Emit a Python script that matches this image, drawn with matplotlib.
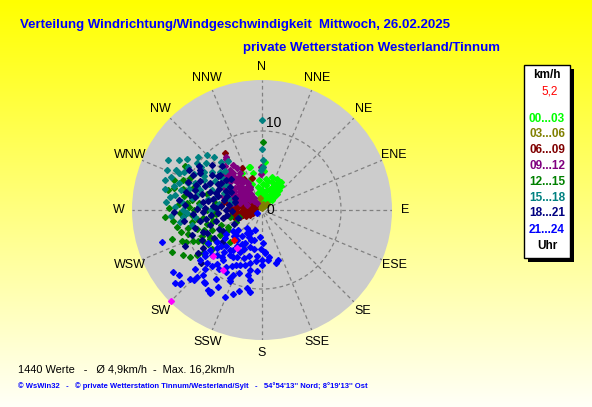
import numpy as np
import matplotlib.pyplot as plt
from matplotlib.patches import Rectangle

plt.rcParams['font.family'] = ['Liberation Sans', 'DejaVu Sans']

# wind direction (deg) / speed (km/h) per 3-hour block
lime = [(332,5.3),(343,5.7),(346,4.8),(344,5.6),(4,6.1),(3,5.0),(7,4.0),(29,3.9),(33,3.0),(25,3.5),
        (30,2.5),(35,2.0),(20,2.8),(15,2.0),(10,3.2),(355,3.8),(350,3.0),(0,2.5),(40,3.3),(38,2.6),
        (42,2.2),(28,1.5),(22,1.2),(18,1.8),(12,1.0),(5,1.5),(45,1.8),(36,3.6),(32,4.1),(26,4.4),
        (340,4.2),(338,3.5),(348,2.2),(24,3.0),(31,3.4),(27,2.0),(14,2.6),(8,2.2),(33,1.2),(40,1.0),
        (35,4.3),(38,3.9),(44,2.8),(20,3.8),(16,4.4),(12,3.8),(2,3.3),(358,1.8),(352,1.0),(30,0.6)]
olive = [(330,0.5),(340,1.0),(10,0.8),(350,1.5),(20,0.6),(300,0.8),(0,0.3),(35,1.0),(345,0.7),(322,0.8)]
darkred = [(327,8.6),(325,7.8),(334,5.9),(342,4.2),(306,6.1),(300,2.0),(305,1.2),(295,1.5),(259,3.5),
           (258,2.0),(280,5.0),(276,4.1),(266,3.2),(255,2.5),(257,3.7),(270,1.7),(279,2.6),(286,3.8),
           (270,2.4),(253,2.9),(247,1.6),(283,4.5),(288,3.0),(274,3.2),(262,2.8),(250,2.2),(264,1.5),
           (290,2.2),(298,1.0),(310,1.5),(320,4.8),(330,4.5),(272,4.0),(268,2.0),(277,3.4),(282,2.0),
           (260,2.3),(262,3.8),(285,1.3),(254,1.2),(275,0.9),(292,3.4)]
purple = [(326,8.1),(325,7.9),(321,6.5),(322,6.0),(325,4.9),(333,3.8),(333,3.3),(318,4.8),(318,5.1),
          (306,5.0),(317,3.5),(310,2.0),(295,4.9),(295,4.0),(312,6.6),(308,5.4),(322,1.1),(359,5.5),
          (358,4.6),(287,4.2),(287,2.9),(288,2.0),(315,6.0),(320,5.5),(323,4.2),(328,4.5),(330,3.0),
          (326,2.5),(320,3.0),(314,4.2),(312,3.0),(318,2.2),(324,1.8),(316,1.5),(310,5.8),(305,6.2),
          (300,5.5),(302,4.2),(306,3.5),(300,3.0),(292,3.5),(296,2.5),(284,3.8),(290,5.2),(329,5.5),
          (327,6.8),(320,7.2),(317,6.2),(319,4.0),(313,5.3),(309,4.4),(304,5.0),(298,4.0),(321,2.3),
          (326,3.5),(331,4.0),(315,2.8),(308,2.6),(303,3.4),(311,3.7),(323,5.1),(329,6.2)]
green = [(291,10.7),(268,10.4),(266,8.9),(266,12.3),(272,9.3),(247,8.3),(241,7.5),(257,6.3),(244,4.8),
         (237,10.9),(245,12.5),(255,10.6),(246,9.5),(234,9.2),(243,7.4),(239,6.2),(225,5.7),(1,8.6),
         (263,11.3),(249,10.9),(251,7.7),(242,8.4),(260,9.0),(262,7.5),(254,8.5),(250,5.5),(258,4.2),
         (265,5.8),(270,7.0),(276,8.0),(280,10.0),(284,11.5),(288,9.2),(294,10.0),(286,7.2),(278,6.0),
         (271,11.8),(259,11.0),(252,12.0),(248,6.8),(236,7.0),(232,8.0),(246,3.6),(253,3.0),(240,5.0),
         (230,6.5),(300,11.2),(282,12.2),(275,9.5),(268,6.2),(262,8.3),(256,9.6),(270,8.6),(278,9.0),
         (285,10.4),(252,9.8),(247,10.5),(244,9.0),(238,8.0),(256,7.2),(263,6.5),(274,10.5),(289,11.8),
         (266,10.0),(235,10.0),(240,11.5)]
teal = [(298,13.5),(315,9.9),(287,12.8),(290,12.2),(296,11.0),(0,11.4),(0,7.7),(1,6.3),(1,5.5),(359,5.0),
        (310,10.5),(318,9.0),(305,9.5),(300,10.8),(293,13.0),(282,12.5),(278,11.8),(284,10.5),(292,9.2),
        (300,8.5),(307,8.0),(312,7.2),(302,7.0),(296,7.5),(288,8.2),(280,9.0),(276,10.2),(272,11.0),
        (268,9.5),(286,6.0),(294,5.2),(300,6.2),(308,6.5),(290,10.0),(298,9.8),(304,11.5),(285,11.5),
        (274,8.0),(266,11.5),(262,10.5),(281,7.0),(292,6.8),(278,5.5),(270,6.5),(264,8.5),(258,9.0),
        (295,12.0),(320,8.0),(325,7.5),(316,6.8),(289,4.5),(283,4.0),(305,5.5),(283,8.5),(290,8.8),
        (297,8.3),(303,8.8),(310,9.2),(288,11.0),(280,11.2),(275,12.2),(294,11.5),(301,12.3),(306,10.2),
        (270,10.0),(265,10.0),(286,9.6)]
navy = [(301,9.2),(291,10.0),(297,7.4),(281,8.6),(280,6.9),(267,8.7),(269,11.2),(310,6.9),(310,5.9),
        (303,9.3),(297,9.8),(250,9.4),(237,8.9),(241,5.6),(229,10.3),(285,7.8),(288,5.8),(292,4.8),
        (276,5.2),(272,7.2),(264,6.5),(260,8.0),(258,5.0),(274,9.8),(283,9.9),(295,8.6),(305,7.8),
        (300,6.5),(289,7.0),(279,4.2),(268,3.8),(262,4.5),(254,6.8),(247,7.5),(244,4.0),(252,3.2),
        (286,3.5),(294,3.8),(300,4.6),(306,5.0),(315,5.5),(277,10.6),(262,10.0),(255,8.8),(266,5.6),
        (270,4.5),(296,6.0),(283,6.3),(275,6.2),(291,9.0),(318,7.5),(312,8.5),(245,10.8),(240,7.0),
        (232,6.5),(284,5.0),(290,6.2),(278,7.5),(271,8.2),(287,8.8),(293,7.8),(298,5.2),(303,6.2),
        (282,9.3),(268,7.5),(273,5.8),(261,7.2),(256,6.0),(250,8.0),(246,6.0),(243,8.5),(236,9.8),
        (305,9.8),(308,7.0),(299,10.5)]
blue = [(252,13.3),(235,13.7),(232,13.4),(230,14.3),(228,13.8),(226,12.6),(224,12.3),(219,11.7),(214,12.2),
        (212,12.2),(204,9.9),(204,9.0),(196,10.6),(191,10.1),(191,7.7),(192,8.4),(165,7.0),(178,4.2),
        (176,5.5),(186,5.9),(213,3.5),(212,3.2),(207,4.7),(208,6.0),(219,6.5),(228,6.9),(221,7.8),
        (220,8.9),(226,9.7),(231,9.3),(231,10.1),(229,11.3),(185,7.8),(180,7.0),(173,6.4),(162,6.6),
        (230,3.9),(227,4.9),(233,5.9),(198,4.9),(196,3.9),(205,7.7),(197,7.3),(212,8.5),(232,8.3),
        (222,11.1),(224,11.8),(193,6.9),(184,3.4),(199,2.7),(235,0.7),(219,3.0),(207,3.3),(180,6.3),
        (176,5.3),(212,12.4),(218,11.8),(228,13.9),(215,7.0),(210,5.0),(205,5.5),(215,5.5),(220,5.0),
        (225,6.5),(230,7.5),(235,7.0),(212,7.0),(218,8.0),(208,8.0),(200,6.5),(196,6.0),(222,9.5),
        (228,8.5),(233,9.0),(205,9.5),(214,10.5),(200,8.5),(192,5.0),(226,4.5),(236,5.5),(239,8.0),
        (210,9.0),(216,9.2),(224,10.4),(202,7.5),(208,6.8),(216,6.2),(222,7.2),(190,9.0),(187,6.5),
        (200,4.0),(206,3.8),(218,4.2),(234,4.5),(225,8.0),(210,11.2),(199,11.2),(188,10.5),(171,6.0),
        (182,5.0),(203,12.0)]
magenta = [(225,16.2),(213,5.8),(213,9.0),(227,8.5)]
current = [(223,5.2)]

hours = ["00...03", "03...06", "06...09", "09...12", "12...15", "15...18", "18...21", "21...24"]
colors = ['#00ff00', '#808000', '#800000', '#800080', '#008000', '#008080', '#000080', '#0000ff']
groups = [lime, olive, darkred, purple, green, teal, navy, blue]
dirs16 = ['N', 'NNE', 'NE', 'ENE', 'E', 'ESE', 'SE', 'SSE',
          'S', 'SSW', 'SW', 'WSW', 'W', 'WNW', 'NW', 'NNW']
rmax = 16.45

W, H = 592, 407
fig = plt.figure(figsize=(W/100, H/100), dpi=100)

# yellow gradient background
bg = fig.add_axes([0, 0, 1, 1])
t = np.linspace(0, 1, 256)
img = np.ones((256, 1, 3))
img[:, 0, 2] = 0.97*t
bg.imshow(img, aspect='auto', extent=[0, 1, 0, 1])
bg.set_xlim(0, 1); bg.set_ylim(0, 1)
bg.axis('off')

cx, cy, rad = 262, 210, 130
ax = fig.add_axes([(cx-rad)/W, 1-(cy+rad)/H, 2*rad/W, 2*rad/H], projection='polar')
ax.set_theta_zero_location('N')
ax.set_theta_direction(-1)
ax.set_ylim(0, rmax)
ax.set_facecolor('#cccccc')
ax.grid(False)
ax.set_xticks([]); ax.set_yticks([])
ax.spines['polar'].set_visible(False)

dash = (0, (3, 2.5))
for i in range(16):
    th = np.radians(i*22.5)
    ax.plot([th, th], [0.5, rmax], color='#808080', ls=dash, lw=0.9)
    ax.text(th, 18.1, dirs16[i], ha='center', va='center', fontsize=9, clip_on=False)
ring = np.linspace(0, 2*np.pi, 361)
ax.plot(ring, np.full_like(ring, 10), color='#808080', ls=dash, lw=0.9)
ax.annotate('10', (0, 10), xytext=(3, 1), textcoords='offset points', ha='left', va='bottom', fontsize=10)
ax.annotate('0', (0, 0), xytext=(3, 0), textcoords='offset points', ha='left', va='center', fontsize=10)

for pts, c in zip(groups + [magenta, current], colors + ['#ff00ff', '#ff0000']):
    d = np.radians([p[0] for p in pts])
    s = [p[1] for p in pts]
    ax.plot(d, s, 'D', ms=3.0, color=c, mec=c, ls='none', clip_on=False)

# titles
fig.text(20/W, 1-25/H, 'Verteilung Windrichtung/Windgeschwindigkeit  Mittwoch, 26.02.2025',
         color='#0000ff', fontsize=9.5, fontweight='bold', va='center')
fig.text(243/W, 1-48/H, 'private Wetterstation Westerland/Tinnum',
         color='#0000ff', fontsize=9.5, fontweight='bold', va='center')

# legend box
fig.add_artist(Rectangle((528/W, 1-261.5/H), 46/W, 192.5/H, transform=fig.transFigure,
                         facecolor='black', edgecolor='none'))
fig.add_artist(Rectangle((524/W, 1-257.5/H), 46/W, 192.5/H, transform=fig.transFigure,
                         facecolor='white', edgecolor='black', lw=1))
fig.text(547/W, 1-75/H, 'km/h', fontsize=8.5, fontweight='bold', ha='center', va='center')
fig.text(550/W, 1-92/H, '5,2', fontsize=8.5, color='#ff0000', ha='center', va='center')
ys = [118.5, 134, 150, 166, 182, 198, 213.5, 230]
for lab, c, y in zip(hours, colors, ys):
    fig.text(547/W, 1-y/H, lab, fontsize=8.5, fontweight='bold', color=c, ha='center', va='center')
fig.text(547/W, 1-246/H, 'Uhr', fontsize=8.5, fontweight='bold', ha='center', va='center')

fig.text(18/W, 1-370/H, '1440 Werte   -   Ø 4,9km/h  -  Max. 16,2km/h', fontsize=7.9, va='center')
fig.text(18/W, 1-386/H, "© WsWin32   -   © private Wetterstation Tinnum/Westerland/Sylt   -   "
         "54°54'13'' Nord; 8°19'13'' Ost", fontsize=5.5, color='#0000ff', fontweight='bold', va='center')

fig.savefig('out.png', dpi=100)
